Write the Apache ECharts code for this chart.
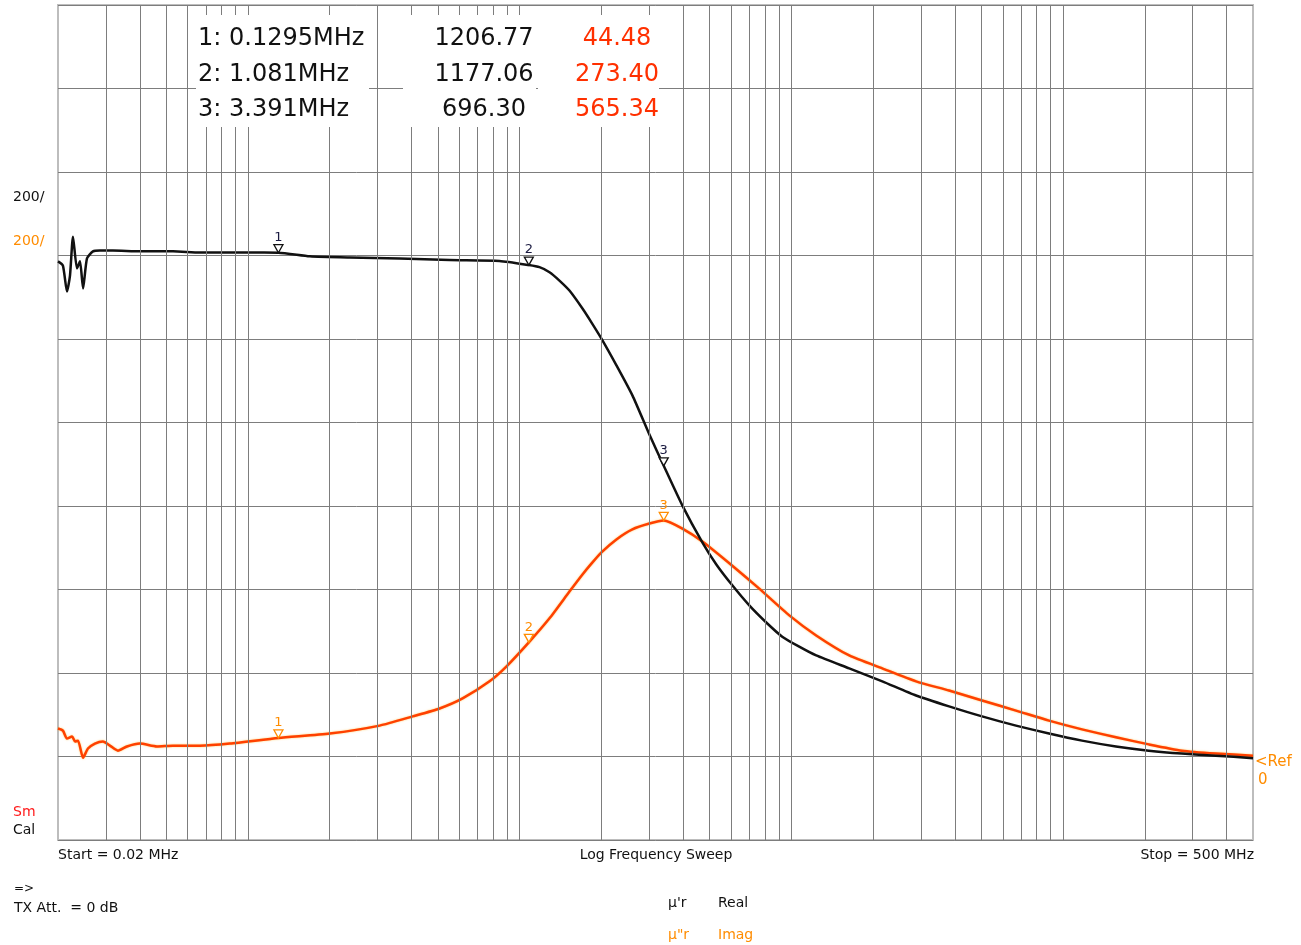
<!DOCTYPE html>
<html>
<head>
<meta charset="utf-8">
<script src="https://cdn.jsdelivr.net/npm/echarts@6/dist/echarts.min.js"></script>
<style>
html,body{margin:0;padding:0;background:#fff;}
#chart{width:1301px;height:945px;}
</style>
</head>
<body>
<div id="chart"></div>
<script>
// ---- data (frequency in MHz) ----
const realFreq = [0.02,0.02085,0.02158,0.02214,0.02271,0.02349,0.0241,0.02473,0.02557,0.0269,0.02852,0.03186,0.04004,0.05297,0.06652,0.1016,0.1295,0.1689,0.237,0.3616,0.5524,0.8433,1.081,1.183,1.288,1.401,1.525,1.703,1.837,2.0,2.271,2.6,3.003,3.391,3.972,4.703,5.295,6.062,7.0,8.084,9.257,10.69,12.34,16.33,21.61,28.78,38.05,50.33,67.09,88.75,117.4,156.5,206.8,273.6,364.8,500];
const realVals = [1186,1176,1114,1152,1245,1169,1186,1121,1193,1210,1212,1212,1210,1210,1207,1207,1206.77,1198,1195,1193,1189,1187,1177.06,1172,1160,1140,1116,1073,1040,1001,937,865,771,696.3,601,513,460,410,362,321,287,263,242,211,180,146,120,96,74,55,38,24,14,7,2,-4];
const imagFreq = [0.02,0.02085,0.02158,0.02253,0.02311,0.0237,0.02473,0.02578,0.02735,0.02927,0.03105,0.03323,0.03588,0.04004,0.04624,0.05297,0.06652,0.0858,0.1295,0.2,0.3054,0.4039,0.5077,0.6166,0.7748,0.895,1.081,1.288,1.525,1.703,1.837,2.0,2.271,2.6,3.003,3.391,3.972,4.703,6.062,7.617,9.825,12.34,16.33,21.61,28.78,38.05,50.33,67.09,88.75,117.4,156.5,206.8,273.6,364.8,500];
const imagVals = [67,62,43,48,36,38,-3,19,31,36,26,14,24,31,24,26,26,31,44.48,55,74,96,115,139,180,216,273.4,331,395,436,462,489,520,544,558,565.34,546,515,457,402,338,290,242,211,180,158,134,110,86,65,46,29,14,7,2];
const markerFreq = [0.1295, 1.081, 3.391];
const markerReal = [1206.77, 1177.06, 696.30];
const markerImag = [44.48, 273.40, 565.34];
const gridFreqs = [0.03,0.04,0.05,0.06,0.07,0.08,0.09,0.1,0.2,0.3,0.4,0.5,0.6,0.7,0.8,0.9,1,2,3,4,5,6,7,8,9,10,20,30,40,50,60,70,80,90,100,200,300,400];
const startF = 0.02, stopF = 500;

const BLACK = '#111111', RED = '#ff4000', ORANGE = '#ff8c00', TRED = '#ff3000';
const FONT = 'DejaVu Sans';

function markers(vals, color, labelColor) {
  return {
    symbol: 'triangle', symbolRotate: 180, symbolSize: [9, 8], symbolOffset: [0, -4],
    itemStyle: { color: '#ffffff', borderColor: color, borderWidth: 1.3 },
    label: { show: true, position: 'top', distance: 0, color: labelColor, fontSize: 13, fontFamily: FONT,
      formatter: p => String(p.dataIndex + 1) },
    data: markerFreq.map((f, i) => ({ coord: [f, vals[i]] })),
    silent: true, animation: false
  };
}

const g = [];
// marker table background
[[196,15,173,112],[403,15,133,112],[538,15,121,112]].forEach(r => g.push({
  type:'rect', shape:{x:r[0],y:r[1],width:r[2],height:r[3]}, style:{fill:'#fff'}, z:50
}));
function txt(x, y, s, color, size, align, extra) {
  g.push(Object.assign({ type:'text', x, y, z:51,
    style:{ text:s, fill:color, font: (size||14) + 'px "' + FONT + '"', textAlign: align||'left', textVerticalAlign:'middle' } }, extra||{}));
}
const mNames = markerFreq.map((f,i) => (i+1) + ': ' + (f < 1 ? f.toFixed(4) : f.toFixed(3)) + 'MHz');
const rowsY = [39, 75, 110];
for (let i = 0; i < 3; i++) {
  txt(198, rowsY[i], mNames[i], BLACK, 24, 'left');
  txt(484, rowsY[i], markerReal[i].toFixed(2), BLACK, 24, 'center');
  txt(617, rowsY[i], markerImag[i].toFixed(2), TRED, 24, 'center');
}
txt(13, 197, '200/', BLACK, 14);
txt(13, 241, '200/', ORANGE, 14);
txt(13, 812, 'Sm', '#ff1a1a', 14);
txt(13, 830, 'Cal', BLACK, 14);
txt(58, 855, 'Start = ' + startF + ' MHz', BLACK, 14);
txt(656, 855, 'Log Frequency Sweep', BLACK, 14, 'center');
txt(1254, 855, 'Stop = ' + stopF + ' MHz', BLACK, 14, 'right');
txt(14, 889, '=>', BLACK, 12);
txt(14, 908, 'TX Att.  = 0 dB', BLACK, 14);
txt(668, 903, 'µ\'r', BLACK, 14);
txt(718, 903, 'Real', BLACK, 14);
txt(668, 935, 'µ"r', ORANGE, 14);
txt(718, 935, 'Imag', ORANGE, 14);
txt(1255, 762, '<Ref', ORANGE, 15);
txt(1258, 780, '0', ORANGE, 15);

const option = {
  animation: false,
  backgroundColor: '#fff',
  grid: { left: 58, right: 48, top: 5, bottom: 105, show: true, borderColor: '#bdbdbd', borderWidth: 2 },
  xAxis: { type: 'log', logBase: 10, min: startF, max: stopF,
    axisLine: { show: false }, axisTick: { show: false }, axisLabel: { show: false }, splitLine: { show: false } },
  yAxis: { type: 'value', min: -200, max: 1800, interval: 200,
    axisLine: { show: false }, axisTick: { show: false }, axisLabel: { show: false },
    splitLine: { show: true, lineStyle: { color: '#7d7d7d', width: 1 } } },
  series: [
    { name: 'grid', type: 'line', z: 1, data: [[startF, -200]], symbol: 'none', lineStyle: { opacity: 0 }, silent: true,
      markLine: { silent: true, symbol: 'none', animation: false, label: { show: false },
        lineStyle: { color: '#7d7d7d', width: 1, type: 'solid' },
        data: gridFreqs.map(f => ({ xAxis: f })) } },
    { name: 'μ"r Imag', type: 'line', z: 3, data: imagFreq.map((f,i) => [f, imagVals[i]]),
      symbol: 'none', smooth: 0.2,
      lineStyle: { color: RED, width: 2.5, shadowColor: 'rgba(255,170,0,0.6)', shadowBlur: 2, join: 'round' },
      markPoint: markers(markerImag, ORANGE, ORANGE) },
    { name: "μ'r Real", type: 'line', z: 4, data: realFreq.map((f,i) => [f, realVals[i]]),
      symbol: 'none', smooth: 0.2,
      lineStyle: { color: BLACK, width: 2.5, join: 'round' },
      markPoint: markers(markerReal, BLACK, '#1a1a40') }
  ],
  graphic: g
};
const chart = echarts.init(document.getElementById('chart'), null, { renderer: 'canvas' });
chart.setOption(option);
</script>
</body>
</html>
